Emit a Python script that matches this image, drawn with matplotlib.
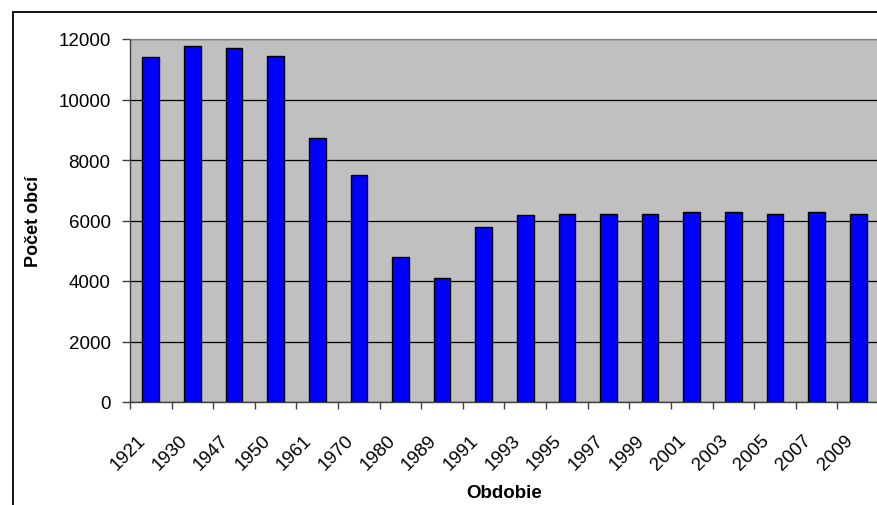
import numpy as np
import matplotlib
matplotlib.use("Agg")
import matplotlib.pyplot as plt
import matplotlib.transforms as mtransforms
from matplotlib.patches import Rectangle

# ------------------------------------------------------------
# Data

years = ["1921", "1930", "1947", "1950", "1961", "1970", "1980", "1989",
         "1991", "1993", "1995", "1997", "1999", "2001", "2003", "2005",
         "2007", "2009"]
obce = [11420, 11780, 11690, 11450, 8720, 7490, 4780, 4110,
        5770, 6190, 6230, 6230, 6230, 6280, 6280, 6230, 6280, 6230]

y_ticks = [0, 2000, 4000, 6000, 8000, 10000, 12000]

plt.rcParams["font.family"] = ["Liberation Sans", "DejaVu Sans"]

# ------------------------------------------------------------
# Figure

W, H = 877, 506
fig = plt.figure(figsize=(W / 100, H / 100), dpi=100)

# outer chart frame (cropped on the right and bottom)
fig.patches.append(Rectangle((13 / W, -0.1), 1.2, (H - 13) / H + 0.1,
                             transform=fig.transFigure, fill=False,
                             edgecolor="black", linewidth=1.3))

ax = fig.add_axes([130 / W, (H - 403) / H, (879 - 130) / W, 363 / H])
ax.set_facecolor("#C0C0C0")

x = np.arange(len(years))
ax.bar(x, obce, width=0.4, color="#0000FF", edgecolor="black",
       linewidth=1.0, zorder=3)

ax.set_xlim(-0.5, len(years) - 0.5)
ax.set_ylim(0, 12000)
ax.set_yticks(y_ticks)
ax.set_yticklabels([str(v) for v in y_ticks])

ax.grid(axis="y", color="black", linewidth=0.9, zorder=1)
ax.set_axisbelow(True)

# category ticks between bars
ax.set_xticks(np.arange(len(years) + 1) - 0.5, minor=False)
ax.set_xticklabels([])
ax.tick_params(axis="x", which="major", direction="out", length=5,
               width=1, color="#404040")
ax.set_xticks(x, minor=True)
ax.set_xticklabels(years, minor=True, rotation=45, ha="right", va="top",
                   rotation_mode="anchor", fontsize=13.5)
ax.tick_params(axis="x", which="minor", length=0, pad=21)
offset = mtransforms.ScaledTranslation(-14 / 100, 0, fig.dpi_scale_trans)
for lab in ax.get_xticklabels(minor=True):
    lab.set_transform(lab.get_transform() + offset)

ax.tick_params(axis="y", direction="out", length=6, width=1,
               color="#404040", pad=8, labelsize=13.5)

for side in ["left", "bottom"]:
    ax.spines[side].set_color("#404040")
    ax.spines[side].set_linewidth(1.0)
ax.spines["top"].set_color("#808080")
ax.spines["right"].set_visible(False)

ax.set_ylabel("Počet obcí", fontsize=13, fontweight="bold", labelpad=0)
ax.yaxis.set_label_coords((42 - 130) / (879 - 130), 0.5)
ax.set_xlabel("Obdobie", fontsize=13.5, fontweight="bold")
ax.xaxis.set_label_coords(0.5, -(485 - 403) / 363)

fig.savefig("out.png", dpi=100)
